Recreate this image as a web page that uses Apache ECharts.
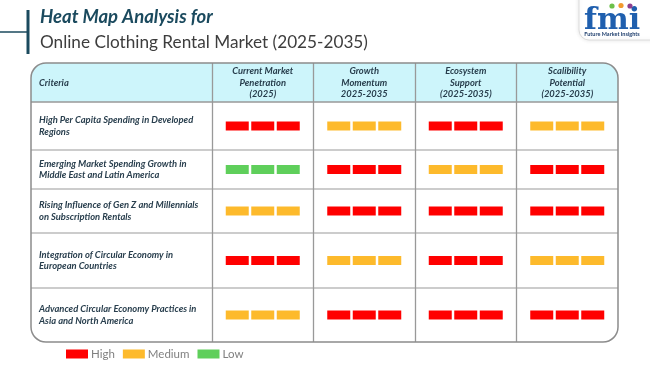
<!DOCTYPE html>
<html>
<head>
<meta charset="utf-8">
<script src="https://cdn.jsdelivr.net/npm/echarts@6/dist/echarts.min.js"></script>
<style>html,body{margin:0;padding:0;background:#fff;}#chart{width:650px;height:365px;}</style>
</head>
<body>
<div id="chart"></div>
<script>
// ---- data ----
const criteria = [
  'High Per Capita Spending in Developed\nRegions',
  'Emerging Market Spending Growth in\nMiddle East and Latin America',
  'Rising Influence of Gen Z and Millennials\non Subscription Rentals',
  'Integration of Circular Economy in\nEuropean Countries',
  'Advanced Circular Economy Practices in\nAsia and North America'
];
const columns = [
  'Current Market\nPenetration\n(2025)',
  'Growth\nMomentum\n2025-2035',
  'Ecosystem\nSupport\n(2025-2035)',
  'Scalibility\nPotential\n(2025-2035)'
];
const levels = ['High', 'Medium', 'Low'];
const ratings = [
  ['High', 'Medium', 'High', 'Medium'],
  ['Low', 'High', 'Medium', 'High'],
  ['Medium', 'High', 'High', 'High'],
  ['High', 'Medium', 'High', 'Medium'],
  ['Medium', 'High', 'High', 'High']
];
const titleText = 'Heat Map Analysis for';
const subtitleText = 'Online Clothing Rental Market (2025-2035)';

// ---- layout / style ----
const levelColors = { High: '#FF0000', Medium: '#FDBA2C', Low: '#5FCF5B' };
const rowHeights = [48, 39, 44, 55, 54];
const headerHeight = 39;
const criteriaWidth = 181;
const FONT = 'Lato, "Open Sans", sans-serif';
const TXT = '#283e4d';
const LINE = '#999999';
const CELLFONT = 'italic bold 9.4px ' + FONT;

function rowTop(i) { let s = 0; for (let k = 0; k < i; k++) s += rowHeights[k]; return s; }
function rowCenter(i) { return rowTop(i) + rowHeights[i] / 2; }
const totalH = rowTop(rowHeights.length);

const chart = echarts.init(document.getElementById('chart'), null, { renderer: 'canvas' });

const cellSeries = levels.map(function (lv) {
  const data = [];
  ratings.forEach(function (row, r) {
    row.forEach(function (v, c) { if (v === lv) data.push([c, r]); });
  });
  return {
    name: lv,
    type: 'custom',
    clip: false,
    itemStyle: { color: levelColors[lv] },
    data: data,
    renderItem: function (params, api) {
      const c = api.value(0), r = api.value(1);
      const p = api.coord([c + 0.5, rowCenter(r)]);
      const w = 23, h = 9, step = 25.5;
      const children = [-1, 0, 1].map(function (k) {
        return {
          type: 'rect',
          shape: { x: p[0] + k * step - w / 2, y: p[1] - h / 2, width: w, height: h },
          style: { fill: levelColors[lv] }
        };
      });
      return { type: 'group', children: children };
    }
  };
});

const rowSeries = {
  type: 'custom',
  clip: false,
  silent: true,
  data: criteria.map(function (t, i) { return [0, i]; }),
  renderItem: function (params, api) {
    const r = api.value(1);
    const cs = params.coordSys;
    const yTop = api.coord([0, rowTop(r)])[1];
    const yc = api.coord([0, rowCenter(r)])[1];
    return {
      type: 'group',
      children: [
        {
          type: 'line',
          shape: { x1: cs.x - criteriaWidth, y1: yTop, x2: cs.x + cs.width, y2: yTop },
          style: { stroke: LINE, lineWidth: r === 0 ? 1.5 : 1.2 }
        },
        {
          type: 'text',
          x: cs.x - criteriaWidth + 8, y: yc,
          style: {
            text: criteria[r], fill: TXT, font: CELLFONT,
            align: 'left', verticalAlign: 'middle', lineHeight: 11.5
          }
        }
      ]
    };
  }
};

const headerSeries = {
  type: 'custom',
  clip: false,
  silent: true,
  data: columns.map(function (t, i) { return [i, 0]; }),
  renderItem: function (params, api) {
    const c = api.value(0);
    const p = api.coord([c + 0.5, -headerHeight / 2]);
    return {
      type: 'text', x: p[0], y: p[1],
      style: {
        text: columns[c], fill: TXT, font: CELLFONT,
        align: 'center', verticalAlign: 'middle', lineHeight: 11.5
      }
    };
  }
};

const option = {
  backgroundColor: '#ffffff',
  animation: false,
  title: {
    text: titleText,
    subtext: subtitleText,
    left: 40, top: 7, itemGap: 5, padding: 0,
    textStyle: { fontFamily: FONT, fontSize: 18.5, fontWeight: 'bold', fontStyle: 'italic', color: '#1b4a5e', lineHeight: 20 },
    subtextStyle: { fontFamily: FONT, fontSize: 17.2, color: '#3d3d3d', lineHeight: 20 }
  },
  legend: {
    data: levels,
    left: 61, top: 343,
    icon: 'rect', itemWidth: 22, itemHeight: 9, itemGap: 8,
    textStyle: { fontFamily: FONT, fontSize: 11.5, color: '#808080', padding: [0, 0, 0, -2] },
    selectedMode: false
  },
  grid: { left: 212, right: 32, top: 63, bottom: 23 },
  xAxis: {
    type: 'value', min: 0, max: columns.length, interval: 1,
    axisLine: { show: false }, axisTick: { show: false }, axisLabel: { show: false },
    splitLine: { show: true, showMinLine: true, showMaxLine: false, lineStyle: { color: LINE, width: 1.3 } }
  },
  yAxis: {
    type: 'value', inverse: true, min: -headerHeight, max: totalH,
    axisLine: { show: false }, axisTick: { show: false }, axisLabel: { show: false }, splitLine: { show: false }
  },
  graphic: [
    // header background
    { type: 'rect', z: -10, shape: { x: 31, y: 63, width: 587, height: 39, r: [15, 15, 0, 0] }, style: { fill: '#cdf5fb' } },
    // frame
    { type: 'rect', z: 100, shape: { x: 31, y: 63, width: 587, height: 279, r: 15 }, style: { fill: 'none', stroke: '#8c8c8c', lineWidth: 1.5 } },
    // "Criteria" header
    { type: 'text', z: 100, x: 39, y: 83, style: { text: 'Criteria', fill: TXT, font: CELLFONT, verticalAlign: 'middle' } },
    // title decoration
    { type: 'rect', shape: { x: 26.5, y: 10, width: 3, height: 44 }, style: { fill: '#1b4a5e' } },
    { type: 'line', shape: { x1: 0, y1: 32, x2: 27, y2: 32 }, style: { stroke: '#1b4a5e', lineWidth: 1.5 } },
    // logo
    { type: 'rect', shape: { x: 579, y: -10, width: 90, height: 50, r: 10 }, style: { fill: '#ffffff', stroke: '#dddddd', lineWidth: 1, shadowBlur: 4, shadowColor: 'rgba(0,0,0,0.10)' } },
    { type: 'text', x: 612, y: 21, style: { text: 'fmi', fill: '#1f5fae', font: 'bold 30px "DejaVu Serif", serif', align: 'center', verticalAlign: 'middle' } },
    { type: 'circle', shape: { cx: 612, cy: 6, r: 2.6 }, style: { fill: '#6cc04a' } },
    { type: 'circle', shape: { cx: 621, cy: 5.5, r: 2.6 }, style: { fill: '#f29a2e' } },
    { type: 'circle', shape: { cx: 630, cy: 6, r: 2.6 }, style: { fill: '#8e3f8f' } },
    { type: 'text', x: 612, y: 34, style: { text: 'Future Market Insights', fill: '#1f3f6e', font: 'bold 5.5px ' + FONT, align: 'center', verticalAlign: 'middle' } }
  ],
  series: [headerSeries, rowSeries].concat(cellSeries)
};

chart.setOption(option);
</script>
</body>
</html>
